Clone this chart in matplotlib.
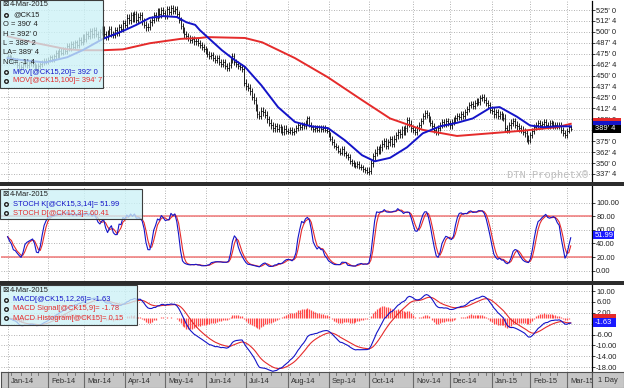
import numpy as np
import pandas as pd
import matplotlib
matplotlib.use("Agg")
import matplotlib.pyplot as plt
from matplotlib.collections import LineCollection
from matplotlib.patches import Rectangle
from matplotlib.lines import Line2D

plt.rcParams['font.family'] = ['Liberation Sans', 'DejaVu Sans']

W, H = 624, 388

# daily closes of May-15 corn (@CK15), cents/bu, 2-Jan-2014 .. 4-Mar-2015
closes = [
    472, 470, 468, 466, 467, 462, 458, 460, 463, 465, 462, 464, 466, 463, 460, 458, 461, 463, 465, 467, 466,  # Jan
    468, 471, 469, 472, 476, 473, 478, 476, 480, 478, 484, 481, 486, 483, 488, 485, 491, 488, 494,  # Feb
    492, 498, 495, 501, 497, 502, 498, 494, 500, 503, 497, 494, 499, 503, 498, 496, 502, 499, 505, 503, 510,  # Mar
    508, 516, 513, 519, 515, 520, 514, 517, 519, 512, 508, 505, 506, 511, 514, 519, 516, 523, 520, 525, 522,  # Apr
    518, 526, 523, 527, 524, 526, 520, 514, 507, 502, 497, 495, 493, 491, 492, 489, 490, 487, 485, 483, 480,  # May
    478, 475, 472, 474, 470, 468, 470, 466, 463, 465, 461, 459, 462, 468, 472, 466, 463, 461, 460, 458, 442,  # Jun
    438, 436, 432, 426, 422, 414, 406, 404, 410, 408, 405, 400, 396, 393, 390, 392, 389, 391, 388, 386, 389, 387,  # Jul
    386, 388, 385, 387, 390, 393, 391, 394, 392, 396, 401, 394, 391, 389, 390, 388, 391, 389, 390, 388, 387,  # Aug
    383, 378, 374, 370, 368, 364, 362, 366, 361, 359, 357, 352, 350, 348, 347, 349, 346, 345, 343, 342, 340,  # Sep
    341, 350, 358, 362, 366, 364, 368, 372, 375, 370, 374, 377, 372, 378, 382, 385, 383, 388, 386, 390, 399, 395, 390,  # Oct
    388, 386, 390, 394, 398, 404, 407, 405, 400, 396, 392, 388, 386, 390, 394, 397, 395, 398, 396,  # Nov
    393, 397, 399, 402, 404, 403, 406, 404, 408, 412, 416, 418, 415, 419, 421, 420, 424, 426, 422, 419, 416, 411,  # Dec
    410, 406, 408, 404, 406, 403, 402, 390, 388, 393, 396, 398, 394, 392, 390, 388, 386, 384, 378, 376,  # Jan-15
    382, 387, 391, 394, 396, 393, 395, 397, 394, 392, 396, 395, 393, 394, 392, 394, 388, 384, 382,  # Feb-15
    387, 391, 389.5,  # Mar-15
]
# how far a bar reaches past its open/close, per month
wick = [3, 3, 3.5, 4, 3.5, 3.5, 4, 3, 3, 4, 3.5, 3.5, 4, 3.5, 3]

holidays = ['2014-01-20', '2014-02-17', '2014-04-18', '2014-05-26', '2014-07-04', '2014-09-01',
            '2014-11-27', '2014-12-25', '2015-01-01', '2015-01-19', '2015-02-16']

# moving averages (trading-day index, value)
ma20_day = [0, 6.5, 19.5, 31, 39, 49.6, 60, 67, 74, 81, 88, 93, 97.6, 100, 104, 111.5, 118, 123.5, 132,
            140.7, 149.5, 158, 166.7, 175.5, 184.4, 191, 199, 207.8, 216, 225, 233.8, 242, 251, 256, 265,
            271.8, 278.6, 285.8, 293]
ma20_val = [470, 468, 465, 471, 479, 492, 501, 508, 516, 518, 517, 511, 508, 502, 494, 479, 468, 460, 439,
            414, 397, 392, 390, 376, 359, 352, 356, 368, 384, 392, 396, 401, 413, 414, 403,
            393, 391, 392, 392]
ma100_day = [0, 13, 31, 39, 49.6, 60, 74, 90, 100, 104, 123.5, 132.5, 149.5, 166.7, 184.4, 199, 216,
             233.8, 251, 268, 285.8, 293]
ma100_val = [495, 488, 480, 479, 479, 480, 487, 492, 493, 494, 493, 488, 470, 448, 422, 401, 388,
             381, 384, 387, 391, 394.875]

# last-bar readouts
last_open, last_high, last_low, last_close, net_change = 390.5, 392.0, 388.25, 389.5, -1.5
ma20_last, ma100_last = 392.0, 394.875
stoch_k_last, stoch_d_last = 51.99, 60.41
macd_last, signal_last, hist_last = -1.63, -1.78, 0.15

RED = '#e52b2b'
BLUE = '#1414c8'
FS = 5.4

# ---- derived series
n = len(closes)
dates = pd.bdate_range('2014-01-02', '2015-03-04', freq='C', holidays=holidays)[:n]
c = pd.Series(closes, dtype=float)
o = c.shift(1).fillna(c.iloc[0])
mcode = np.array((dates.year - 2014) * 12 + dates.month - 1)
w = np.array(wick)[mcode]
hi = np.maximum(o, c) + w
lo = np.minimum(o, c) - w
idx = np.arange(n)

ll = lo.rolling(14, min_periods=1).min()
hh = hi.rolling(14, min_periods=1).max()
k_raw = 100 * (c - ll) / (hh - ll)
stoch_k = k_raw.rolling(3, min_periods=1).mean()
stoch_d = stoch_k.rolling(3, min_periods=1).mean()

macd = c.ewm(span=12, adjust=False).mean() - c.ewm(span=26, adjust=False).mean()
signal = macd.ewm(span=9, adjust=False).mean()
hist = macd - signal

month_start = [0] + [i for i in range(1, n) if dates[i].month != dates[i - 1].month]
week_start = [i for i in range(1, n) if dates[i].weekday() < dates[i - 1].weekday()]


def eighths(p):
    sign = '-' if p < 0 else ''
    p = abs(p)
    whole = int(p)
    return f"{sign}{whole}' {int(round((p - whole) * 8))}"


def rect(x0, y0, x1, y1):
    return [x0 / W, 1 - y1 / H, (x1 - x0) / W, (y1 - y0) / H]


X0, X1 = (1 - 7.6) / 1.922, (592 - 7.6) / 1.922

fig = plt.figure(figsize=(W / 100, H / 100), dpi=100)
ax_p = fig.add_axes(rect(1, 1, 592, 182))
ax_s = fig.add_axes(rect(1, 186, 592, 281))
ax_m = fig.add_axes(rect(1, 285, 592, 372))
ax_d = fig.add_axes(rect(1, 372, 592, 388))
ax_1 = fig.add_axes(rect(592, 372, 624, 388))


def style(ax, ticks, labels):
    ax.set_xlim(X0, X1)
    ax.yaxis.tick_right()
    ax.set_yticks(ticks)
    ax.set_yticklabels(labels)
    ax.tick_params(axis='y', direction='out', length=2.2, width=0.6, pad=0.8,
                   labelsize=FS, colors='#202020')
    ax.tick_params(axis='x', bottom=False, labelbottom=False)
    for s in ['left', 'top', 'bottom']:
        ax.spines[s].set_visible(False)
    ax.spines['right'].set_linewidth(0.9)
    ax.set_axisbelow(True)
    for t in ticks:
        ax.axhline(t, color='#9a9a9a', lw=0.6, ls=(0, (1, 2)), zorder=0)
    for m in month_start:
        ax.axvline(m, color='#9a9a9a', lw=0.6, ls=(0, (1, 2)), zorder=0)


# ---- price panel
pticks = np.arange(337.5, 525.1, 12.5)
style(ax_p, pticks, [eighths(p) for p in pticks])
ax_p.set_ylim(525 - 172 * 1.1433, 525 + 9 * 1.1433)
segs = []
for i in idx:
    segs.append([(i, lo[i]), (i, hi[i])])
    segs.append([(i - 0.45, o[i]), (i, o[i])])
    segs.append([(i, c[i]), (i + 0.45, c[i])])
ax_p.add_collection(LineCollection(segs, colors='black', linewidths=0.6))
ax_p.plot(ma100_day, ma100_val, color=RED, lw=1.4)
ax_p.plot(ma20_day, ma20_val, color=BLUE, lw=1.4)
ax_p.text(0.993, 0.01, 'DTN ProphetX®', transform=ax_p.transAxes, ha='right', va='bottom',
          fontsize=7.5, family='Liberation Mono', color='#bdbdbd')

# ---- stochastic panel
sticks = np.arange(0, 101, 20)
style(ax_s, sticks, ['%.2f' % t for t in sticks])
ax_s.set_ylim(-(281 - 270.7) / 0.68, 100 + (202.7 - 186) / 0.68)
ax_s.axhline(80, color='#f07878', lw=1.1)
ax_s.axhline(20, color='#f07878', lw=1.1)
ax_s.plot(idx, stoch_d, color=RED, lw=0.8)
ax_s.plot(idx, stoch_k, color=BLUE, lw=0.8)

# ---- MACD panel
mticks = np.arange(-18, 11, 4)
style(ax_m, mticks, ['%.2f' % t for t in mticks])
ax_m.set_ylim(-(372 - 318.2) / 2.72, 10 + (291 - 285) / 2.72)
ax_m.vlines(idx, 0, hist, colors='#ff4a4a', linewidth=0.9, zorder=1)
ax_m.plot(idx, signal, color=RED, lw=0.8)
ax_m.plot(idx, macd, color=BLUE, lw=0.8)

# ---- date band
ax_d.set_xlim(X0, X1)
ax_d.set_ylim(0, 1)
ax_d.set_facecolor('#c6c6c6')
ax_d.set_xticks([])
ax_d.set_yticks([])
for s in ax_d.spines.values():
    s.set_color('#505050')
    s.set_linewidth(0.8)
for m in month_start:
    ax_d.axvline(m, color='#6a6a6a', lw=0.8)
    ax_d.text(m + 1.6, 0.42, dates[m].strftime('%b-%y'), fontsize=FS, color='#303030', va='center')
for wk in week_start:
    ax_d.plot([wk, wk], [1, 0.8], color='#6a6a6a', lw=0.6)
ax_1.set_facecolor('#c6c6c6')
ax_1.set_xticks([])
ax_1.set_yticks([])
for s in ax_1.spines.values():
    s.set_color('#505050')
    s.set_linewidth(0.8)
ax_1.text(0.5, 0.45, '1 Day', ha='center', va='center', fontsize=FS, color='#303030')

# ---- panel splitters
for y0 in (182, 281):
    fig.add_artist(Rectangle((0, 1 - (y0 + 4) / H), 1, 4 / H, transform=fig.transFigure,
                             facecolor='#2c2c2c', edgecolor='none', zorder=10))
    fig.add_artist(Rectangle((0, 1 - (y0 + 2.4) / H), 1, 0.8 / H, transform=fig.transFigure,
                             facecolor='#8a8a8a', edgecolor='none', zorder=11))


# ---- readout boxes
def box(x0, y0, x1, y1):
    fig.add_artist(Rectangle((x0 / W, 1 - y1 / H), (x1 - x0) / W, (y1 - y0) / H,
                             transform=fig.transFigure, facecolor=(0.80, 0.95, 0.97, 0.78),
                             edgecolor='#3c3c3c', linewidth=0.8, zorder=5))


def ftext(x, y, s, color='#202020', size=FS, **kw):
    fig.text(x / W, 1 - y / H, s, ha='left', va='center', fontsize=size, color=color, zorder=6, **kw)


def header(y):
    ftext(2, y, '⊠', size=5.5)
    ftext(10, y, '4-Mar-2015')


def bullet(y, s, color):
    fig.add_artist(Line2D([6 / W], [1 - y / H], marker='o', ms=2.6, mfc='#e8fbfc', mec='#202020',
                          mew=1.0, transform=fig.transFigure, zorder=6))
    ftext(13, y, s, color=color)


box(0, 0, 103, 88)
header(5)
bullet(15, '@CK15', '#202020')
rows = [('O = ', last_open), ('H = ', last_high), ('L = ', last_low), ('LA= ', last_close), ('NC= ', net_change)]
for r, (lab, v) in enumerate(rows):
    ftext(3, 24.5 + r * 9.5, lab + eighths(v))
bullet(72, 'MOV[@CK15,20]= ' + eighths(ma20_last), BLUE)
bullet(81, 'MOV[@CK15,100]= ' + eighths(ma100_last), RED)

box(0, 189, 142, 219)
header(195)
bullet(204, 'STOCH K[@CK15,3,14]= %.2f' % stoch_k_last, BLUE)
bullet(213, 'STOCH D[@CK15,3]= %.2f' % stoch_d_last, RED)

box(0, 285, 137, 325)
header(290)
bullet(299.5, 'MACD[@CK15,12,26]= %.2f' % macd_last, BLUE)
bullet(309, 'MACD Signal[@CK15,9]= %.2f' % signal_last, RED)
bullet(318, 'MACD Histogram[@CK15]= %.2f' % hist_last, RED)


# ---- value tags on the right scale
def py(ax, v):
    return H - ax.transData.transform((0, v))[1]


def tag(y0, y1, color, text=None, x1=621):
    fig.add_artist(Rectangle((593 / W, 1 - y1 / H), (x1 - 593) / W, (y1 - y0) / H,
                             transform=fig.transFigure, facecolor=color, edgecolor='none', zorder=7))
    if text:
        fig.text(595 / W, 1 - (y0 + y1) / 2 / H, text, ha='left', va='center', fontsize=FS,
                 color='white', zorder=8)


yc = py(ax_p, last_close)
tag(yc - 11, yc - 7.5, RED)
tag(yc - 7.5, yc - 4, BLUE)
tag(yc - 4, yc + 4, 'black', eighths(last_close))
yk = py(ax_s, stoch_k_last)
tag(yk - 4, yk + 4, '#1a1aff', '%.2f' % stoch_k_last, x1=614)
ym = py(ax_m, macd_last)
tag(ym - 9, ym - 4.5, RED, x1=616)
tag(ym - 4.5, ym + 4, '#1a1aff', '%.2f' % macd_last, x1=616)

fig.savefig('out.png', dpi=100)
